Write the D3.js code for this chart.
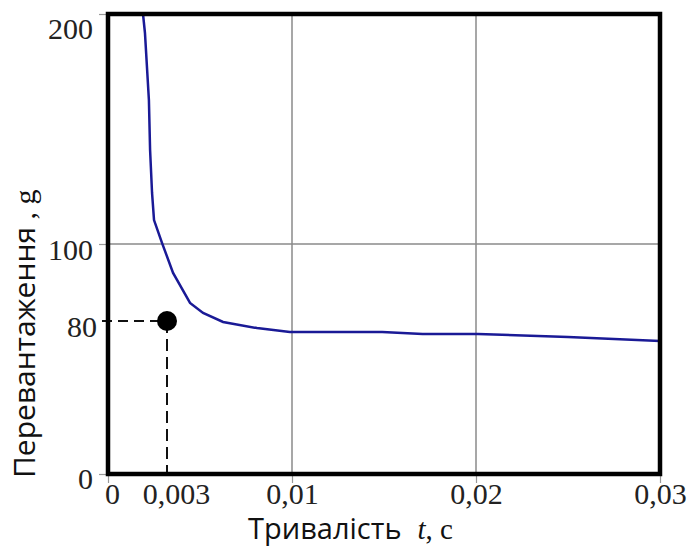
<!DOCTYPE html>
<html>
<head>
<meta charset="utf-8">
<script src="https://cdn.jsdelivr.net/npm/d3@7"></script>
<style>
  body { margin: 0; background: #fff; }
  svg { display: block; }
</style>
</head>
<body>
<div class="chart"></div>
<script>
    // Data
    var tValues = [0.00178, 0.00188, 0.00208, 0.00214, 0.00224, 0.00234, 0.00275, 0.00334,
                   0.00429, 0.00502, 0.00614, 0.00804, 0.00988, 0.0106, 0.0149, 0.0171,
                   0.0201, 0.025, 0.03];
    var gValues = [200, 191.7, 162.6, 140.9, 122.2, 110.4, 100.4, 92.5,
                   84.7, 82.1, 79.5, 76.3, 74.2, 74.2, 74.2, 73.2,
                   73.2, 71.6, 69.5];
    var marker = [0.003, 80];
    var xTicks = [0, 0.003, 0.01, 0.02, 0.03];
    var yTicks = [0, 80, 100, 200];
    var xGrid = [0.01, 0.02];
    var yGrid = [100];

    var width = 695;
    var height = 547;
    var fontSize = 30;

    var svg = d3.select('.chart')
        .append('svg')
            .attr('width', width)
            .attr('height', height);

    // the original axes are not evenly spaced, so piecewise scales
    var x = d3.scaleLinear()
        .domain([0, 0.003, 0.01, 0.03])
        .range([108, 167, 292, 660]);
    var y = d3.scaleLinear()
        .domain([0, 80, 100, 200])
        .range([474, 321, 244, 14]);

    var fmt = function (d) { return String(d).replace('.', ','); };

    // grid
    svg.selectAll('line.gx')
        .data(xGrid)
        .enter()
        .append('line')
            .attr('x1', function (d) { return x(d); })
            .attr('x2', function (d) { return x(d); })
            .attr('y1', y(200))
            .attr('y2', y(0))
            .attr('stroke', '#8a8a8a')
            .attr('stroke-width', 1.5);
    svg.selectAll('line.gy')
        .data(yGrid)
        .enter()
        .append('line')
            .attr('x1', x(0))
            .attr('x2', x(0.03))
            .attr('y1', function (d) { return y(d); })
            .attr('y2', function (d) { return y(d); })
            .attr('stroke', '#8a8a8a')
            .attr('stroke-width', 1.5);

    // axes
    var xAxis = svg.append('g')
        .attr('transform', 'translate(0,' + y(0) + ')')
        .call(d3.axisBottom(x).tickValues(xTicks).tickSize(9).tickPadding(0).tickFormat(fmt));
    var yAxis = svg.append('g')
        .attr('transform', 'translate(' + x(0) + ',0)')
        .call(d3.axisLeft(y).tickValues(yTicks).tickSize(9).tickPadding(6).tickFormat(fmt));

    [xAxis, yAxis].forEach(function (g) {
        g.select('.domain').remove();
        g.selectAll('.tick line').attr('stroke', '#999').attr('stroke-width', 1.2);
        g.selectAll('text')
            .attr('font-family', '"Liberation Serif", serif')
            .attr('font-size', fontSize)
            .attr('fill', '#222');
    });
    yAxis.selectAll('text').attr('dy', '0.52em');
    yAxis.selectAll('.tick').filter(function (d) { return d === 200; }).select('text').attr('dy', '0.8em');
    yAxis.selectAll('.tick').filter(function (d) { return d === 0; }).select('text').attr('dy', '0.47em');
    xAxis.selectAll('.tick').filter(function (d) { return d === 0.003; }).select('line').remove();
    xAxis.selectAll('.tick').filter(function (d) { return d === 0.003; }).select('text').attr('dx', 9);
    xAxis.selectAll('.tick').filter(function (d) { return d === 0; }).select('text').attr('dx', 4);
    yAxis.selectAll('.tick').filter(function (d) { return d === 80; }).select('line').remove();
    yAxis.selectAll('.tick').filter(function (d) { return d === 80; }).select('text').attr('x', -11);

    // dashed guides to the marked point
    svg.append('line')
        .attr('x1', x(0) - 6)
        .attr('x2', x(marker[0]))
        .attr('y1', y(marker[1]))
        .attr('y2', y(marker[1]))
        .attr('stroke', '#111')
        .attr('stroke-width', 2)
        .attr('stroke-dasharray', '10,6');
    svg.append('line')
        .attr('x1', x(marker[0]))
        .attr('x2', x(marker[0]))
        .attr('y1', y(marker[1]))
        .attr('y2', y(0))
        .attr('stroke', '#111')
        .attr('stroke-width', 2)
        .attr('stroke-dasharray', '12,6');

    // curve
    var line = d3.line()
        .x(function (d, i) { return x(tValues[i]); })
        .y(function (d) { return y(d); });
    svg.append('path')
        .datum(gValues)
        .attr('d', line)
        .attr('fill', 'none')
        .attr('stroke', '#1a1a96')
        .attr('stroke-width', 2.5);

    svg.append('circle')
        .attr('cx', x(marker[0]))
        .attr('cy', y(marker[1]))
        .attr('r', 10)
        .attr('fill', '#000');

    // frame
    svg.append('rect')
        .attr('x', x(0))
        .attr('y', y(200))
        .attr('width', x(0.03) - x(0))
        .attr('height', y(0) - y(200))
        .attr('fill', 'none')
        .attr('stroke', '#000')
        .attr('stroke-width', 4.5);

    // axis titles
    var xt = svg.append('text')
        .attr('x', 248)
        .attr('y', 539)
        .attr('font-size', 29)
        .attr('fill', '#111');
    xt.append('tspan').attr('font-family', '"Open Sans", sans-serif').text('Тривалість');
    xt.append('tspan').attr('font-family', '"Liberation Serif", serif').attr('font-style', 'italic').attr('dx', 16).text('t');
    xt.append('tspan').attr('font-family', '"Liberation Serif", serif').text(', c');

    var yt = svg.append('text')
        .attr('transform', 'translate(35,478) rotate(-90)')
        .attr('font-size', 30)
        .attr('fill', '#111');
    yt.append('tspan').attr('font-family', '"Open Sans", sans-serif').text('Перевантаження');
    yt.append('tspan').attr('font-family', '"Liberation Serif", serif').text(' , g');
</script>
</body>
</html>
